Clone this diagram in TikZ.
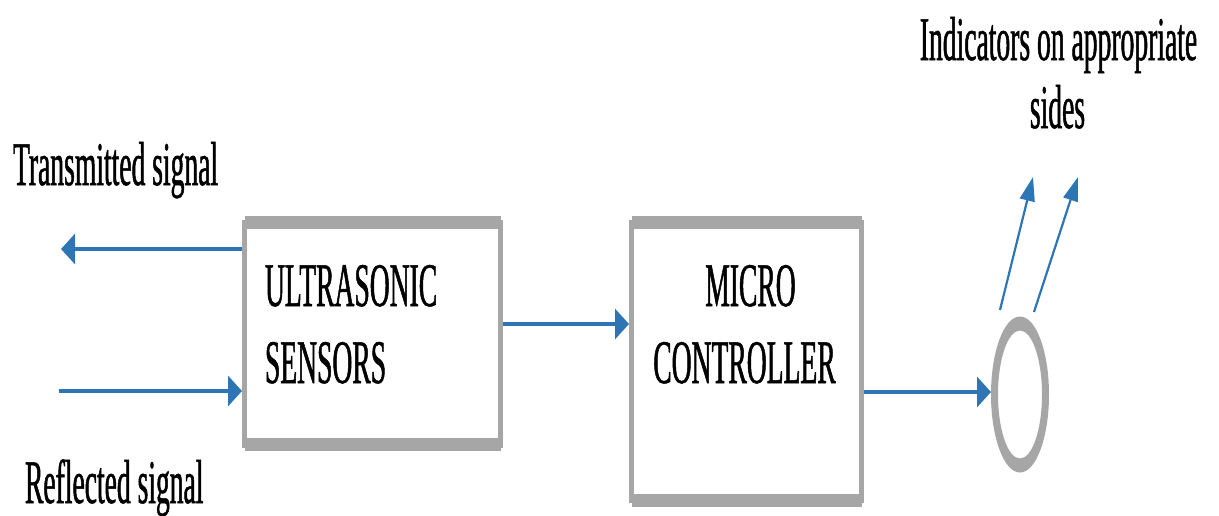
\documentclass[tikz,border=0pt]{standalone}
\usepackage{fontspec}
\usetikzlibrary{arrows.meta,shapes.geometric}
\newfontfamily\tallserif[FakeStretch=0.445,FakeBold=0.8]{Liberation Serif}
\definecolor{arrblue}{RGB}{46,117,182}
\definecolor{boxgray}{RGB}{166,166,166}
\tikzset{
  lbl/.style={inner sep=0pt, outer sep=0pt, font=\tallserif\fontsize{62}{64}\selectfont, text=black},
  blockbox/.style={draw=boxgray, line width=5pt, outer sep=0pt, inner sep=0pt, rectangle},
  band/.style={draw=boxgray, line width=13pt},
  arr/.style={draw=arrblue, line width=3.5pt, -{Triangle[length=14pt,width=30pt]}},
  slantarr/.style={draw=arrblue, line width=2.2pt, -{Triangle[length=24pt,width=15pt]}},
}
\begin{document}
\begin{tikzpicture}[x=1pt,y=-1pt]
\useasboundingbox (0,0) rectangle (1219,515);
% blocks
\node[blockbox, minimum width=256pt, minimum height=223pt] (box1) at (372.5,333.75) {};
\node[blockbox, minimum width=230pt, minimum height=278pt] (box2) at (746.5,361.5) {};
\draw[band] (box1.north west) -- (box1.north east);
\draw[band] ([yshift=1pt]box1.south west) -- ([yshift=1pt]box1.south east);
\draw[band] (box2.north west) -- (box2.north east);
\draw[band] (box2.south west) -- (box2.south east);
% indicator ring
\node[ellipse, minimum width=58pt, minimum height=156pt, inner sep=0pt, outer sep=0pt] (ind) at (1020,394.5) {};
\fill[boxgray, even odd rule] (ind.center) ellipse [x radius=29pt, y radius=78pt]
                              (ind.center) ellipse [x radius=22pt, y radius=64pt];
% texts
\node[lbl, anchor=base west] (txlbl) at (13,185) {Transmitted signal};
\node[lbl, anchor=base west] (rxlbl) at (25,503) {Reflected signal};
\node[lbl, anchor=base west] (us1) at (265,306) {ULTRASONIC};
\node[lbl, anchor=base west] (us2) at (265,383) {SENSORS};
\node[lbl, anchor=base] (mc1) at (750.5,306) {MICRO};
\node[lbl, anchor=base] (mc2) at (744.5,383) {CONTROLLER};
\node[lbl, anchor=base] (ind1) at (1058.5,60) {Indicators on appropriate};
\node[lbl, anchor=base] (ind2) at (1057.5,128) {sides};
% free ends
\coordinate (txend) at (61,249);
\coordinate (rxstart) at (59,391);
\coordinate (m1) at (0,324);
\coordinate (m2) at (0,392);
\coordinate (s1a) at (1000,310);
\coordinate (s1b) at (1033,177);
\coordinate (s2a) at (1034,312);
\coordinate (s2b) at (1078,177);
% connectors
\draw[arr, shorten <=2.5pt] (box1.west |- txend) -- (txend);
\draw[arr, shorten >=2.5pt] (rxstart) -- (box1.west |- rxstart);
\draw[arr, shorten <=2.5pt, shorten >=2.5pt] (box1.east |- m1) -- (box2.west |- m1);
\draw[arr, shorten <=2.5pt] (box2.east |- m2) -- (ind.west |- m2);
\draw[slantarr] (s1a) -- (s1b);
\draw[slantarr] (s2a) -- (s2b);
\end{tikzpicture}
\end{document}
